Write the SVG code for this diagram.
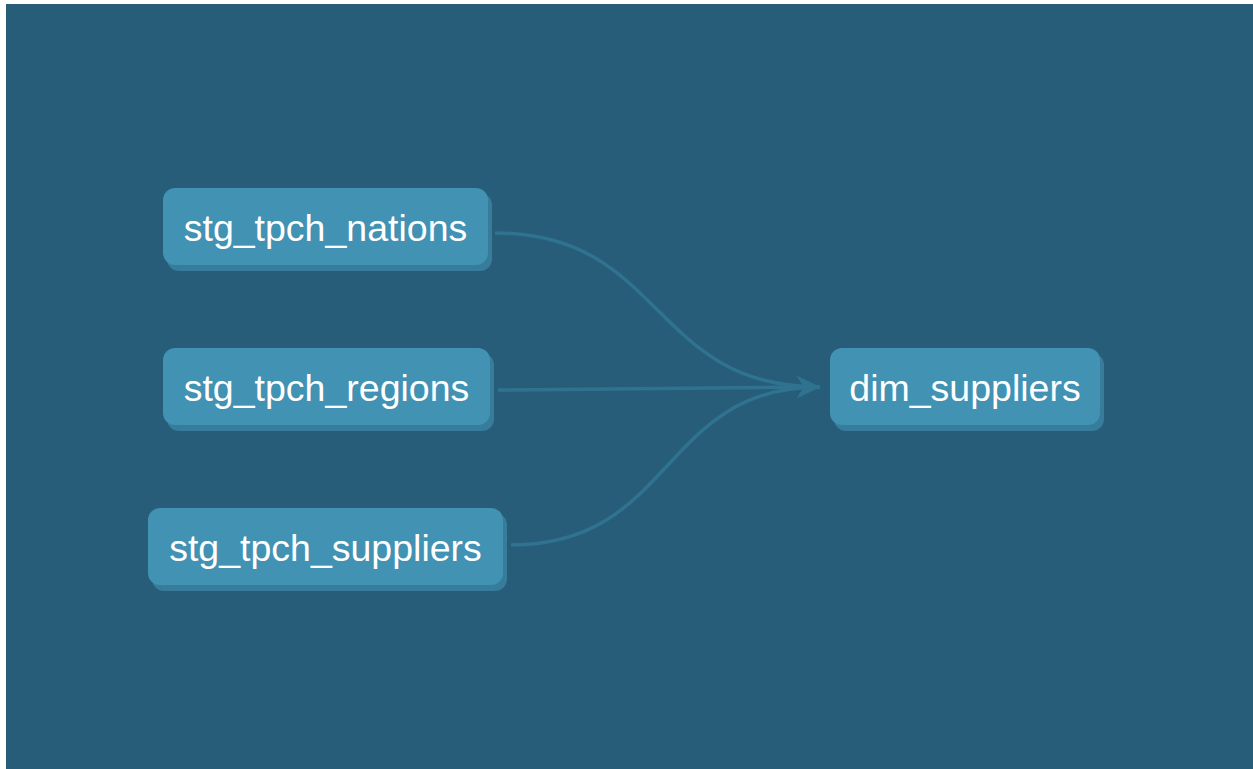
<svg xmlns="http://www.w3.org/2000/svg" width="1253" height="769" viewBox="0 0 1253 769">
<style>
.bg{fill:#275d78}
.sh{fill:#387c9b}
.nd{fill:#4292b3}
.lb{fill:#ffffff;font-family:"Liberation Sans",Arial,sans-serif;font-size:37.5px;text-anchor:middle;dominant-baseline:central}
.ed{fill:none;stroke:#2f7391;stroke-width:3.5}
</style>
<defs>
<marker id="arr" markerWidth="26" markerHeight="26" refX="23" refY="13" orient="auto" markerUnits="userSpaceOnUse">
<path d="M0,2 L23,13 L0,24 L7,13 Z" fill="#2f7391"/>
</marker>
</defs>
<rect x="0" y="0" width="1253" height="769" fill="#ffffff"/>
<rect class="bg" x="6" y="4" width="1247" height="765"/>
<g id="connectors">
<path class="ed" d="M495,233 C665,233 650,387 820,387" marker-end="url(#arr)"/>
<path class="ed" d="M498,390 L820,387" marker-end="url(#arr)"/>
<path class="ed" d="M511,545 C675,545 660,387 820,387" marker-end="url(#arr)"/>
</g>
<g id="stg_tpch_nations">
<rect class="sh" x="167" y="193" width="325" height="78" rx="12"/>
<rect class="nd" x="163" y="188" width="325" height="77" rx="12"/>
<text class="lb" x="325.5" y="228">stg_tpch_nations</text>
</g>
<g id="stg_tpch_regions">
<rect class="sh" x="167" y="353" width="327" height="78" rx="12"/>
<rect class="nd" x="163" y="348" width="327" height="77" rx="12"/>
<text class="lb" x="326.5" y="388">stg_tpch_regions</text>
</g>
<g id="stg_tpch_suppliers">
<rect class="sh" x="152" y="513" width="355" height="78" rx="12"/>
<rect class="nd" x="148" y="508" width="355" height="77" rx="12"/>
<text class="lb" x="325.5" y="548">stg_tpch_suppliers</text>
</g>
<g id="dim_suppliers">
<rect class="sh" x="834" y="353" width="270" height="78" rx="12"/>
<rect class="nd" x="830" y="348" width="270" height="77" rx="12"/>
<text class="lb" x="965" y="388">dim_suppliers</text>
</g>
</svg>
